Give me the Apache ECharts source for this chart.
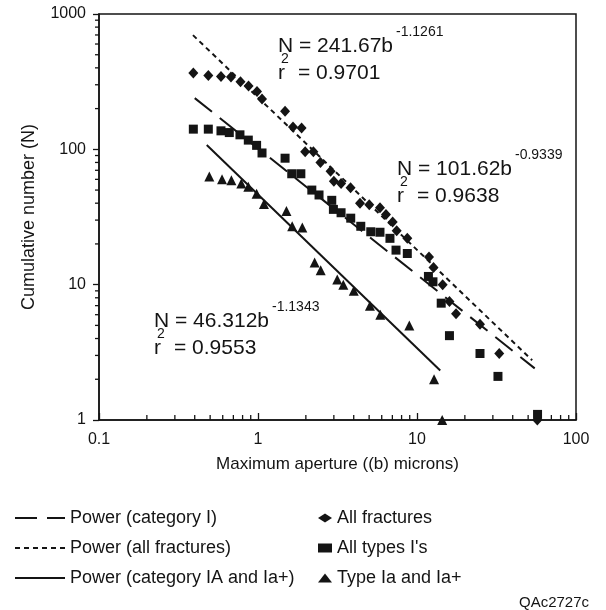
<!DOCTYPE html>
<html>
<head>
<meta charset="utf-8">
<title>Cumulative number vs maximum aperture</title>
<script src="https://cdn.jsdelivr.net/npm/echarts@6/dist/echarts.min.js"></script>
<style>
  html, body { margin: 0; padding: 0; background: #fff; }
  #chart { width: 606px; height: 610px; }
</style>
</head>
<body>
<div id="chart"></div>
<script>
// Observed cumulative counts: [aperture b (microns), cumulative number N]
const allFractures = [
  [0.392, 366], [0.487, 351], [0.585, 345], [0.676, 342], [0.776, 316],
  [0.872, 294], [0.986, 267], [1.06, 235], [1.48, 191], [1.66, 146],
  [1.88, 144], [1.98, 96], [2.23, 96], [2.47, 80], [2.86, 69],
  [3.0, 58], [3.33, 56], [3.82, 52], [4.38, 40], [5.01, 39],
  [5.85, 37], [6.38, 33], [7.03, 29], [7.45, 25], [8.69, 22],
  [11.9, 16], [12.7, 13.4], [14.5, 10], [16.0, 7.5], [17.6, 6.1],
  [24.9, 5.1], [32.9, 3.1], [57.1, 1]
];
const allTypesI = [
  [0.392, 141], [0.487, 141], [0.585, 137], [0.66, 133], [0.77, 128],
  [0.869, 117], [0.98, 107], [1.06, 94], [1.48, 86], [1.63, 66],
  [1.86, 66], [2.18, 50], [2.42, 46], [2.91, 42], [2.98, 36],
  [3.33, 34], [3.83, 31], [4.43, 27], [5.12, 24.6], [5.85, 24.4],
  [6.76, 22], [7.38, 18], [8.69, 17], [11.8, 11.5], [12.6, 10.5],
  [14.2, 7.3], [16.0, 4.2], [24.9, 3.1], [32.3, 2.1], [57.3, 1.1]
];
const typeIa = [
  [0.494, 63], [0.594, 60], [0.68, 59], [0.785, 56], [0.869, 53],
  [0.98, 47], [1.09, 39.5], [1.51, 35], [1.64, 27], [1.90, 26.5],
  [2.27, 14.6], [2.48, 12.8], [3.15, 10.9], [3.44, 10], [4.0, 9],
  [5.06, 7], [5.88, 6], [8.95, 5], [12.8, 2], [14.4, 1]
];

// Power-law fits N = a * b^k, with the aperture range each fit covers
const fitCategoryI   = { a: 101.62, k: -0.9339, r2: '0.9638', from: 0.40,  to: 55 };
const fitAllFract    = { a: 241.67, k: -1.1261, r2: '0.9701', from: 0.39,  to: 53 };
const fitCategoryIA  = { a: 46.312, k: -1.1343, r2: '0.9553', from: 0.476, to: 14 };

// Axis tick labels
const xTickLabels = ['0.1', '1', '10', '100'];
const yTickLabels = ['1', '10', '100', '1000'];
// Minor tick positions within each decade
const xMinorTicks = [0.2, 0.3, 0.4, 0.5, 0.6, 0.7, 0.8, 0.9, 2, 3, 4, 5, 6, 7, 8, 9, 20, 30, 40, 50, 60, 70, 80, 90];
const yMinorTicks = [2, 3, 4, 5, 6, 7, 8, 9, 20, 30, 40, 50, 60, 70, 80, 90, 200, 300, 400, 500, 600, 700, 800, 900];

const FONT = '"Liberation Sans", Arial, Helvetica, sans-serif';
const INK = '#141414';

function fitLine(f) {
  return [[f.from, f.a * Math.pow(f.from, f.k)], [f.to, f.a * Math.pow(f.to, f.k)]];
}

const chart = echarts.init(document.getElementById('chart'), null, { renderer: 'canvas' });

function minorTickSeries(values, isX) {
  return {
    type: 'custom',
    silent: true,
    clip: false,
    z: 5,
    legendHoverLink: false,
    data: values.map(v => isX ? [v, 1] : [0.1, v]),
    renderItem: function (params, api) {
      const p = api.coord([api.value(0), api.value(1)]);
      const shape = isX
        ? { x1: p[0], y1: p[1], x2: p[0], y2: p[1] - 5 }
        : { x1: p[0], y1: p[1], x2: p[0] - 4, y2: p[1] };
      return { type: 'line', shape: shape, style: { stroke: INK, lineWidth: 1.3 } };
    }
  };
}

const lineSeries = [
  { name: 'Power (category I)', f: fitCategoryI, dash: [22, 10] },
  { name: 'Power (all fractures)', f: fitAllFract, dash: [5, 4] },
  { name: 'Power (category IA and Ia+)', f: fitCategoryIA, dash: 'solid' }
].map(s => ({
  name: s.name,
  type: 'line',
  data: fitLine(s.f),
  symbol: 'none',
  z: 3,
  lineStyle: { color: INK, width: 2, type: s.dash },
  itemStyle: { color: INK }
}));

const scatterSeries = [
  { name: 'All fractures', data: allFractures, symbol: 'diamond', size: [10, 11] },
  { name: "All types I's", data: allTypesI, symbol: 'rect', size: 9 },
  { name: 'Type Ia and Ia+', data: typeIa, symbol: 'triangle', size: 10 }
].map(s => ({
  name: s.name,
  type: 'scatter',
  data: s.data,
  symbol: s.symbol,
  symbolSize: s.size,
  clip: false,
  z: 4,
  itemStyle: { color: INK, opacity: 1 }
}));

// Fit equation block: "N = a b^k" over "r² = value"
function eqLabel(x, y, f) {
  const main = { fontFamily: FONT, fontSize: 21, fill: INK };
  const small = { fontFamily: FONT, fontSize: 14, fill: INK };
  const nText = 'N = ' + f.a.toString() + 'b';
  return [
    { type: 'text', left: x, top: y, style: Object.assign({ text: nText }, main) },
    { type: 'text', left: x + 118, top: y - 11, style: Object.assign({ text: f.k.toString() }, small) },
    { type: 'text', left: x + 3, top: y + 16, style: Object.assign({ text: '2' }, small) },
    { type: 'text', left: x, top: y + 27, style: Object.assign({ text: 'r' }, main) },
    { type: 'text', left: x + 20, top: y + 27, style: Object.assign({ text: '= ' + f.r2 }, main) }
  ];
}

const option = {
  backgroundColor: '#ffffff',
  animation: false,
  textStyle: { fontFamily: FONT, color: INK },
  grid: {
    left: 99, top: 14, right: 30, bottom: 190,
    show: true, borderColor: INK, borderWidth: 1.5, backgroundColor: 'transparent'
  },
  xAxis: {
    type: 'log', logBase: 10, min: 0.1, max: 100,
    name: 'Maximum aperture ((b) microns)',
    nameLocation: 'middle', nameGap: 36,
    nameTextStyle: { fontSize: 17, color: INK, fontFamily: FONT },
    axisLine: { show: true, onZero: false, lineStyle: { color: INK, width: 1.5 } },
    axisTick: { show: true, inside: true, length: 7, lineStyle: { color: INK, width: 1.3 } },
    minorTick: { show: false },
    splitLine: { show: false },
    axisLabel: {
      margin: 12, fontSize: 16, color: INK, fontFamily: FONT,
      formatter: v => xTickLabels.find(t => Math.abs(parseFloat(t) - v) / v < 1e-6) || ''
    }
  },
  yAxis: {
    type: 'log', logBase: 10, min: 1, max: 1000,
    name: 'Cumulative number (N)',
    nameLocation: 'middle', nameGap: 61, nameRotate: 90,
    nameTextStyle: { fontSize: 18, color: INK, fontFamily: FONT },
    axisLine: { show: true, lineStyle: { color: INK, width: 1.5 } },
    axisTick: { show: true, inside: false, length: 6, lineStyle: { color: INK, width: 1.3 } },
    minorTick: { show: false },
    splitLine: { show: false },
    axisLabel: {
      margin: 13, fontSize: 16, color: INK, fontFamily: FONT,
      formatter: v => yTickLabels.find(t => Math.abs(parseFloat(t) - v) / v < 1e-6) || ''
    }
  },
  legend: [
    {
      data: lineSeries.map(s => s.name),
      orient: 'vertical', left: 14, top: 508, padding: 0,
      itemWidth: 50, itemHeight: 12, itemGap: 10,
      itemStyle: { opacity: 0 },
      selectedMode: false,
      textStyle: { fontSize: 18, color: INK, fontFamily: FONT, lineHeight: 20 }
    },
    {
      data: scatterSeries.map(s => ({ name: s.name, icon: s.symbol })),
      orient: 'vertical', left: 318, top: 508, padding: 0,
      itemWidth: 14, itemHeight: 9, itemGap: 10,
      selectedMode: false,
      textStyle: { fontSize: 18, color: INK, fontFamily: FONT, lineHeight: 20 }
    }
  ],
  graphic: [].concat(
    eqLabel(278, 36, fitAllFract),
    eqLabel(397, 159, fitCategoryI),
    eqLabel(154, 311, fitCategoryIA),
    [{ type: 'text', right: 17, top: 595, style: { text: 'QAc2727c', fontFamily: FONT, fontSize: 15, fill: INK } }]
  ),
  series: [].concat(
    lineSeries,
    scatterSeries,
    [minorTickSeries(xMinorTicks, true), minorTickSeries(yMinorTicks, false)]
  )
};

chart.setOption(option);
</script>
</body>
</html>
